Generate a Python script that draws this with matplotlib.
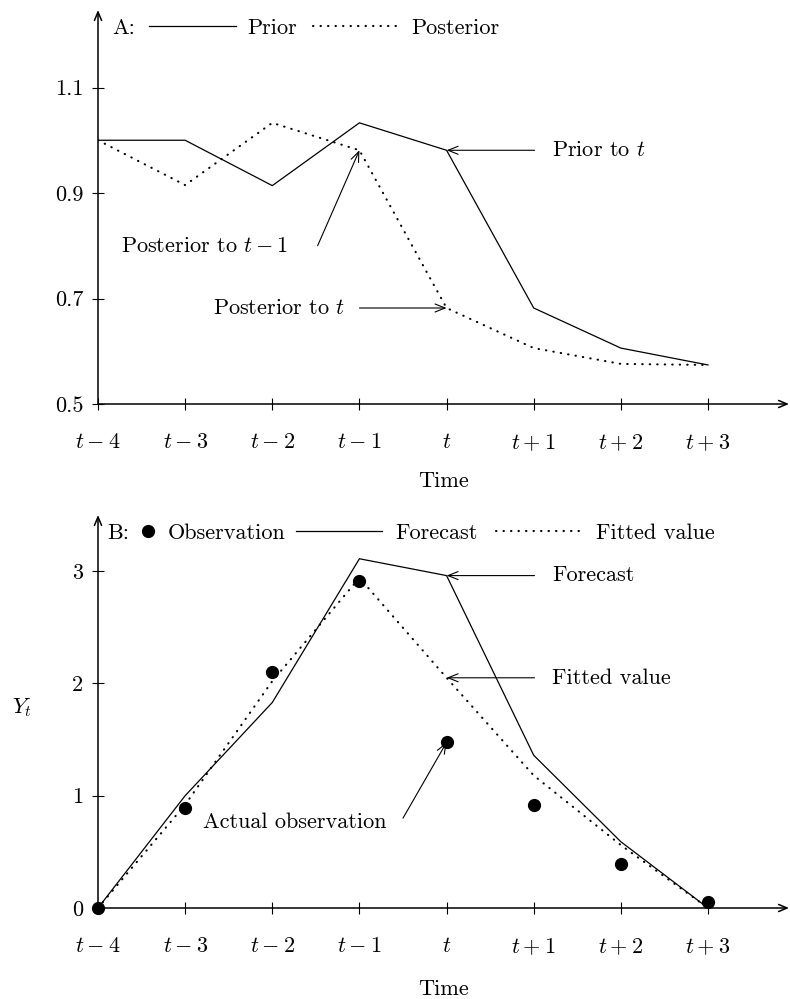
import matplotlib
matplotlib.use("Agg")
import matplotlib.pyplot as plt
from matplotlib.ticker import FixedLocator, FixedFormatter

plt.rcParams["font.family"] = "cmr10"
plt.rcParams["mathtext.fontset"] = "cm"
plt.rcParams["axes.formatter.use_mathtext"] = True
plt.rcParams["font.size"] = 16

# ---- data -------------------------------------------------------------
time_labels = ["$t-4$", "$t-3$", "$t-2$", "$t-1$", "$t$", "$t+1$", "$t+2$", "$t+3$"]
time_idx = list(range(len(time_labels)))

# Panel A: prior and posterior estimates
prior = [1.0, 1.0, 0.914, 1.033, 0.981, 0.682, 0.606, 0.574]
posterior = [1.0, 0.915, 1.033, 0.981, 0.682, 0.606, 0.576, 0.574]
a_ticks = [0.5, 0.7, 0.9, 1.1]
a_ticklabels = ["0.5", "0.7", "0.9", "1.1"]

# Panel B: observations, one-step forecasts and fitted values
observation = [0.0, 0.89, 2.10, 2.91, 1.475, 0.92, 0.39, 0.05]
forecast = [0.0, 1.0, 1.83, 3.11, 2.96, 1.36, 0.59, 0.0]
fitted = [0.0, 0.92, 2.02, 2.94, 2.05, 1.18, 0.56, 0.0]
b_ticks = [0, 1, 2, 3]
b_ticklabels = ["0", "1", "2", "3"]

# ---- styles -----------------------------------------------------------
SOLID = dict(color="black", lw=0.9, solid_joinstyle="miter")
DOTTED = dict(color="black", lw=1.5, linestyle=(0, (0.2, 3.4)),
              dash_capstyle="round")
ARROW = dict(arrowstyle="->, head_length=0.45, head_width=0.18",
             color="black", lw=0.8, shrinkA=0, shrinkB=0)
AXARROW = dict(arrowstyle="->, head_length=0.38, head_width=0.16",
               color="black", lw=1.1, shrinkA=0, shrinkB=0)

W, H = 790, 999
fig = plt.figure(figsize=(W / 100, H / 100), dpi=100)

left, right = 98, 789
axA = fig.add_axes([left / W, 1 - 404 / H, (right - left) / W, (404 - 10) / H])
axB = fig.add_axes([left / W, 1 - 908 / H, (right - left) / W, (908 - 515) / H])

xmax = (right - left) / ((708 - 98) / 7)


def frame(ax, ylim, ticks, ticklabels, xlabelpad):
    ax.set_xlim(0, xmax)
    ax.set_ylim(*ylim)
    for s in ax.spines.values():
        s.set_visible(False)
    ax.annotate("", xy=(1, 0), xytext=(0, 0), xycoords="axes fraction",
                arrowprops=AXARROW, annotation_clip=False)
    ax.annotate("", xy=(0, 1), xytext=(0, 0), xycoords="axes fraction",
                arrowprops=AXARROW, annotation_clip=False)
    ax.xaxis.set_major_locator(FixedLocator(time_idx))
    ax.xaxis.set_major_formatter(FixedFormatter(time_labels))
    ax.yaxis.set_major_locator(FixedLocator(ticks))
    ax.yaxis.set_major_formatter(FixedFormatter(ticklabels))
    ax.tick_params(axis="both", direction="inout", length=9, width=0.8,
                   labelsize=16)
    ax.tick_params(axis="x", pad=16)
    ax.tick_params(axis="y", pad=6)
    ax.set_xlabel("Time", labelpad=xlabelpad)
    ax.set_facecolor("none")


# ---- Panel A ----------------------------------------------------------
frame(axA, (0.5, 0.5 + (404 - 10) / 527.5), a_ticks, a_ticklabels, 13)
lp, = axA.plot(time_idx, prior, **SOLID, label="Prior")
lq, = axA.plot(time_idx, posterior, **DOTTED, label="Posterior")

axA.text(0.021, 0.954, "A:", transform=axA.transAxes, va="center", ha="left")
axA.legend(handles=[lp, lq], loc="center left", bbox_to_anchor=(0.074, 0.954),
           ncol=2, frameon=False, handlelength=3.9, handletextpad=0.5,
           columnspacing=0.75, borderpad=0, borderaxespad=0)

axA.annotate("", xy=(4, prior[4]), xytext=(5.01, prior[4]), arrowprops=ARROW)
axA.text(5.21, prior[4], "Prior to $t$", va="center", ha="left")

axA.annotate("", xy=(3, posterior[3]), xytext=(2.52, 0.80), arrowprops=ARROW)
axA.text(2.18, 0.80, "Posterior to $t-1$", va="center", ha="right")

axA.annotate("", xy=(4, posterior[4]), xytext=(3.0, posterior[4]),
             arrowprops=ARROW)
axA.text(2.83, posterior[4], "Posterior to $t$", va="center", ha="right")

# ---- Panel B ----------------------------------------------------------
frame(axB, (0, (908 - 515) / 112.3), b_ticks, b_ticklabels, 16)
lf, = axB.plot(time_idx, forecast, **SOLID, label="Forecast")
lv, = axB.plot(time_idx, fitted, **DOTTED, label="Fitted value")
lo, = axB.plot(time_idx, observation, linestyle="none", marker="o",
               markersize=8.5, color="black", label="Observation",
               clip_on=False, zorder=3)
axB.set_ylabel("$Y_t$", rotation=0, va="center", ha="center")
axB.yaxis.set_label_coords(-0.110, 0.509)

axB.text(0.013, 0.954, "B:", transform=axB.transAxes, va="center", ha="left")
legO = axB.legend(handles=[lo], loc="center left",
                  bbox_to_anchor=(0.063, 0.954), frameon=False,
                  handlelength=0.6, handletextpad=0.6, numpoints=1,
                  borderpad=0, borderaxespad=0)
axB.add_artist(legO)
axB.legend(handles=[lf, lv], loc="center left", bbox_to_anchor=(0.286, 0.954),
           ncol=2, frameon=False, handlelength=3.9, handletextpad=0.6,
           columnspacing=0.8, borderpad=0, borderaxespad=0)

axB.annotate("", xy=(4, forecast[4]), xytext=(5.01, forecast[4]),
             arrowprops=ARROW)
axB.text(5.21, forecast[4], "Forecast", va="center", ha="left")

axB.annotate("", xy=(4, fitted[4]), xytext=(5.01, fitted[4]), arrowprops=ARROW)
axB.text(5.21, fitted[4], "Fitted value", va="center", ha="left")

axB.annotate("", xy=(4, observation[4]), xytext=(3.50, 0.80), arrowprops=ARROW)
axB.text(3.31, 0.766, "Actual observation", va="center", ha="right")

fig.savefig("out.png", dpi=100)
